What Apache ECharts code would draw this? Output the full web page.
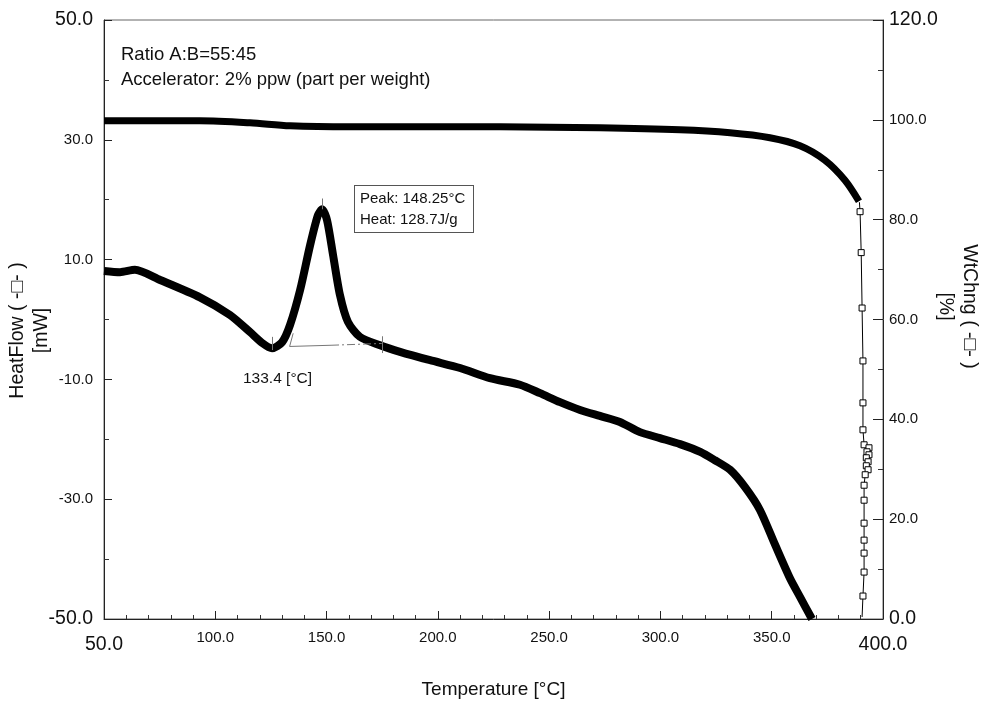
<!DOCTYPE html>
<html>
<head>
<meta charset="utf-8">
<script src="https://cdn.jsdelivr.net/npm/echarts@6/dist/echarts.min.js"></script>
<style>
html, body { margin: 0; padding: 0; background: #fff; }
#chart { width: 987px; height: 707px; }
</style>
</head>
<body>
<div id="chart"></div>
<script>
// heat flow curve (left axis, mW)
var heatTemp = [50, 57.2, 63.9, 75.2, 93.1, 106.6, 115.6, 121, 125.5, 130, 133.6, 138.1, 142.6, 146.1, 148, 150.2, 152.9, 156, 159.6, 165, 174, 183, 196.5, 210, 223.4, 236.9, 245.9, 254.9, 263.9, 272.8, 281.8, 290.8, 299.8, 308.8, 317.9, 324.5, 331.3, 338, 344.7, 351.5, 358.2, 362.7, 368.1];
var heatFlow = [8.1, 7.9, 8.3, 6.6, 3.7, 0.75, -2.1, -3.9, -4.8, -3.8, -0.9, 4.9, 12.4, 17.4, 18.4, 16.6, 10.8, 4.1, -0.4, -2.9, -4.3, -5.4, -6.8, -8.1, -9.8, -10.9, -12.3, -13.8, -15.1, -16.1, -17.1, -18.8, -19.8, -20.8, -22.1, -23.5, -25.1, -28, -31.8, -37.6, -43.2, -46.3, -50];

// weight change, thick part (right axis, %)
var wtTemp = [50, 93.1, 115.6, 133.6, 160.5, 227.9, 272.8, 308.8, 331.3, 349.2, 362.7, 373.9, 382.9, 389.2];
var wtChng = [99.8, 99.8, 99.4, 98.8, 98.6, 98.6, 98.4, 98.0, 97.4, 96.4, 94.8, 91.9, 87.9, 83.7];

// weight change, fast drop with square markers
var dropTemp = [389.4, 389.7, 390.2, 390.6, 391, 391, 391, 391.5, 393.7, 392.8, 393.7, 392.5, 393.3, 392.5, 393.3, 392, 391.5, 391.5, 391.5, 391.5, 391.5, 391.5, 391, 390.6];
var dropVal = [83.5, 81.6, 73.4, 62.3, 51.7, 43.3, 37.9, 34.9, 34.3, 33.5, 32.9, 32.3, 31.5, 30.7, 29.9, 28.9, 26.8, 23.8, 19.2, 15.8, 13.2, 9.4, 4.6, 0.4];

// peak annotation
var onsetTemp = 133.4;
var peakTemp = 148.25;
var peakHeat = 128.7;

var tempTicks = [50, 400, 50];
var heatTicks = [-50, 50, 20];
var wtTicks = [0, 120, 20];

function pairs(xs, ys) {
	var out = [];
	for (var i = 0; i < xs.length; i++) out.push([xs[i], ys[i]]);
	return out;
}

var dropData = [];
for (var i = 0; i < dropTemp.length; i++) {
	var item = { value: [dropTemp[i], dropVal[i]] };
	if (i === 0 || i === dropTemp.length - 1) item.symbol = 'none';
	dropData.push(item);
}

function endLabel(lo, hi) {
	return function (v) {
		var s = v.toFixed(1);
		return (v === lo || v === hi) ? '{big|' + s + '}' : s;
	};
}

var labelFont = '"Liberation Sans Narrow", "Liberation Sans", Arial, sans-serif';
var textFont = '"Liberation Sans", Arial, sans-serif';

var myChart = echarts.init(document.getElementById('chart'));

var option = {
	backgroundColor: '#fff',
	animation: false,
	grid: {
		left: 104, right: 104, top: 20, bottom: 88,
		outerBoundsMode: 'none',
		containLabel: false,
		show: true, borderColor: '#666', borderWidth: 1
	},
	xAxis: {
		type: 'value',
		min: tempTicks[0], max: tempTicks[1], interval: tempTicks[2],
		name: 'Temperature [°C]',
		nameLocation: 'middle',
		nameMoveOverlap: false,
		nameGap: 61,
		nameTextStyle: { fontSize: 19, color: '#111', fontFamily: textFont },
		axisLine: { onZero: false, lineStyle: { color: '#222', width: 1 } },
		axisTick: { inside: true, length: 8, lineStyle: { color: '#222' } },
		minorTick: { show: true, splitNumber: 5, length: 4, lineStyle: { color: '#333' } },
		splitLine: { show: false },
		axisLabel: {
			margin: 11, fontSize: 15, color: '#111', fontFamily: labelFont,
			formatter: endLabel(tempTicks[0], tempTicks[1]),
			rich: { big: { fontSize: 19.5, fontFamily: textFont, color: '#111', padding: [5, 0, 0, 0] } }
		}
	},
	yAxis: [{
		type: 'value',
		position: 'left',
		min: heatTicks[0], max: heatTicks[1], interval: heatTicks[2],
		name: 'HeatFlow ( -□- )\n[mW]',
		nameLocation: 'middle',
		nameRotate: 90,
		nameMoveOverlap: false,
		nameGap: 50,
		nameTextStyle: { fontSize: 19.5, color: '#111', fontFamily: textFont, lineHeight: 24, padding: [0, 22, 0, 0] },
		axisLine: { show: true, onZero: false, lineStyle: { color: '#222' } },
		axisTick: { inside: true, length: 8, lineStyle: { color: '#222' } },
		minorTick: { show: true, splitNumber: 2, length: 5, lineStyle: { color: '#333' } },
		splitLine: { show: false },
		axisLabel: {
			margin: 11, fontSize: 15, color: '#111', fontFamily: labelFont,
			formatter: endLabel(heatTicks[0], heatTicks[1]),
			rich: { big: { fontSize: 19.5, fontFamily: textFont, color: '#111' } }
		}
	}, {
		type: 'value',
		position: 'right',
		min: wtTicks[0], max: wtTicks[1], interval: wtTicks[2],
		name: 'WtChng ( -□- )\n[%]',
		nameLocation: 'middle',
		nameRotate: -90,
		nameMoveOverlap: false,
		nameGap: 50,
		nameTextStyle: { fontSize: 19.5, color: '#111', fontFamily: textFont, lineHeight: 24, padding: [0, 26, 0, 0] },
		axisLine: { show: true, onZero: false, lineStyle: { color: '#222' } },
		axisTick: { inside: true, length: 10, lineStyle: { color: '#222' } },
		minorTick: { show: true, splitNumber: 2, length: 5, lineStyle: { color: '#333' } },
		splitLine: { show: false },
		axisLabel: {
			margin: 6, fontSize: 15, color: '#111', fontFamily: labelFont,
			formatter: endLabel(wtTicks[0], wtTicks[1]),
			rich: { big: { fontSize: 19.5, fontFamily: textFont, color: '#111' } }
		}
	}],
	series: [{
		name: 'HeatFlow',
		type: 'line',
		yAxisIndex: 0,
		data: pairs(heatTemp, heatFlow),
		smooth: 0.25,
		showSymbol: false,
		lineStyle: { color: '#000', width: 8 },
		markLine: {
			silent: true,
			symbol: 'none',
			label: { show: false },
			lineStyle: { color: '#777', width: 1, type: 'solid' },
			data: [
				[{ coord: [onsetTemp, -4.5] }, { coord: [152, -4.3] }],
				[{ coord: [152, -4.3], lineStyle: { type: [8, 3, 2, 3] } }, { coord: [174.8, -4.0] }],
				[{ coord: [onsetTemp, -4.5] }, { coord: [135, -2.3] }],
				[{ coord: [125.8, -2.9] }, { coord: [125.8, -5.1] }],
				[{ coord: [174.8, -2.8] }, { coord: [174.8, -5.6] }],
				[{ coord: [peakTemp, 18.4] }, { coord: [peakTemp, 20.2] }]
			]
		}
	}, {
		name: 'WtChng',
		type: 'line',
		yAxisIndex: 1,
		data: pairs(wtTemp, wtChng),
		smooth: 0.3,
		showSymbol: false,
		lineStyle: { color: '#000', width: 7 }
	}, {
		name: 'WtChng drop',
		type: 'line',
		yAxisIndex: 1,
		data: dropData,
		symbol: 'rect',
		symbolSize: 6,
		itemStyle: { color: '#fff', borderColor: '#000', borderWidth: 1 },
		lineStyle: { color: '#000', width: 1 }
	}],
	graphic: [{
		type: 'text', left: 121, top: 45,
		style: { text: 'Ratio A:B=55:45', fontSize: 18.5, fill: '#111', fontFamily: textFont }
	}, {
		type: 'text', left: 121, top: 70,
		style: { text: 'Accelerator: 2% ppw (part per weight)', fontSize: 18.5, fill: '#111', fontFamily: textFont }
	}, {
		type: 'text', left: 354, top: 185,
		style: {
			text: 'Peak: ' + peakTemp.toFixed(2) + '°C\nHeat: ' + peakHeat.toFixed(1) + 'J/g',
			fontSize: 15, lineHeight: 21, fill: '#111', fontFamily: textFont,
			backgroundColor: '#fff', borderColor: '#555', borderWidth: 1,
			padding: [2, 6, 2, 5], width: 107
		}
	}, {
		type: 'text', left: 243, top: 371,
		style: { text: onsetTemp.toFixed(1) + ' [°C]', fontSize: 15.5, fill: '#111', fontFamily: textFont }
	}]
};

myChart.setOption(option);
</script>
</body>
</html>
